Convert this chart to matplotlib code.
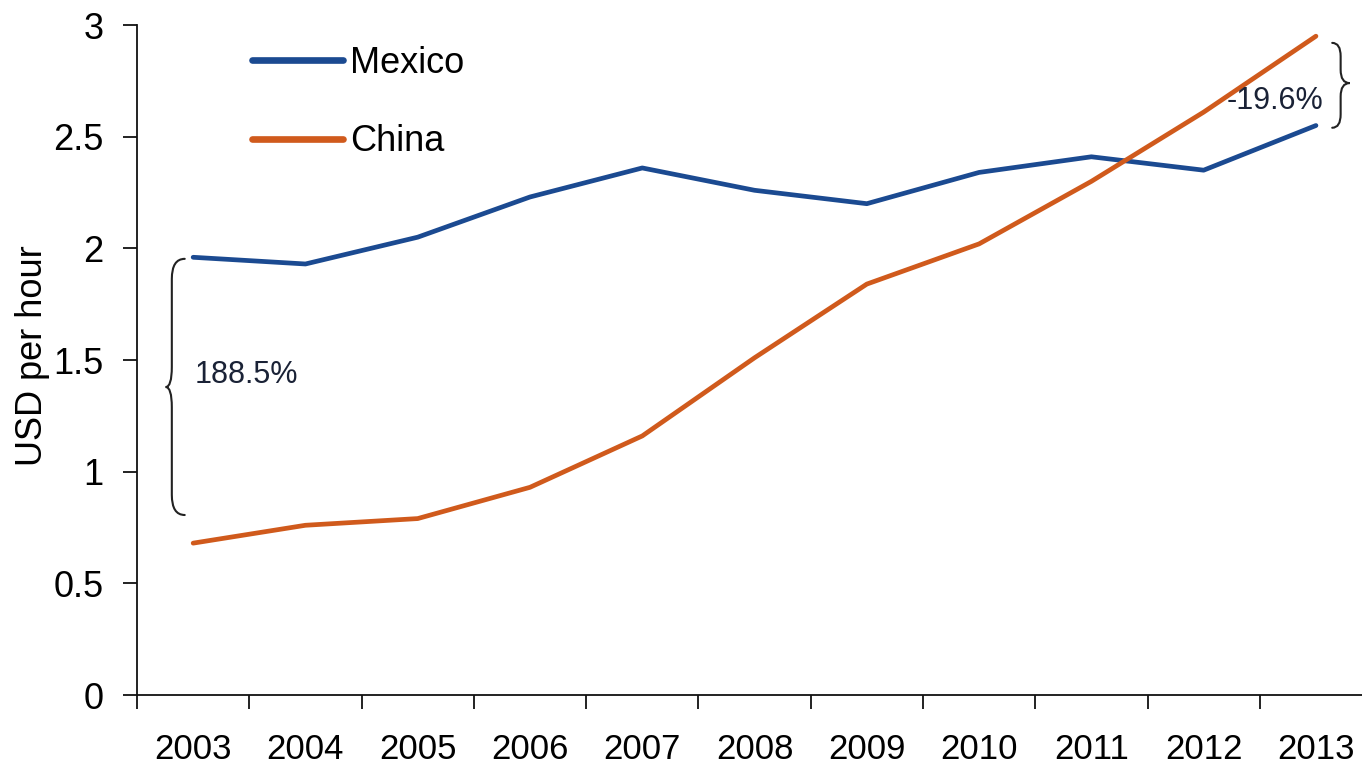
import numpy as np
import matplotlib
matplotlib.use("Agg")
import matplotlib.pyplot as plt
from matplotlib.path import Path
from matplotlib.patches import PathPatch

plt.rcParams["font.family"] = ["Liberation Sans", "DejaVu Sans"]

# Hourly manufacturing wages, USD
years = ["2003", "2004", "2005", "2006", "2007", "2008",
         "2009", "2010", "2011", "2012", "2013"]
mexico = [1.96, 1.93, 2.05, 2.23, 2.36, 2.26, 2.20, 2.34, 2.41, 2.35, 2.55]
china = [0.68, 0.76, 0.79, 0.93, 1.16, 1.51, 1.84, 2.02, 2.30, 2.61, 2.95]
yticks = [0, 0.5, 1, 1.5, 2, 2.5, 3]
ytick_labels = ["0", "0.5", "1", "1.5", "2", "2.5", "3"]

BLUE = "#1b4a91"
ORANGE = "#d05a1c"
NOTE = "#1a2236"


def brace(ax, x0, ytop, ybot, w, d, r, ymid=None):
    """Curly brace along a vertical span; w>0 opens right, w<0 opens left."""
    if ymid is None:
        ymid = (ytop + ybot) / 2
    verts = [
        (x0 + w, ytop), (x0, ytop), (x0, ytop - r),
        (x0, ymid + r),
        (x0, ymid), (x0 - d, ymid),
        (x0, ymid), (x0, ymid - r),
        (x0, ybot + r),
        (x0, ybot), (x0 + w, ybot),
    ]
    codes = [Path.MOVETO, Path.CURVE3, Path.CURVE3,
             Path.LINETO,
             Path.CURVE3, Path.CURVE3,
             Path.CURVE3, Path.CURVE3,
             Path.LINETO,
             Path.CURVE3, Path.CURVE3]
    ax.add_patch(PathPatch(Path(verts, codes), fill=False, lw=1.5,
                           edgecolor="#222222", capstyle="round",
                           clip_on=False))


fig = plt.figure(figsize=(13.62, 7.70), dpi=100)
ax = fig.add_axes([0.1006, 0.0974, 0.9068, 0.8701])

x = np.arange(len(years))
ax.plot(x, mexico, color=BLUE, lw=3.4, solid_joinstyle="round",
        solid_capstyle="round", label="Mexico")
ax.plot(x, china, color=ORANGE, lw=3.4, solid_joinstyle="round",
        solid_capstyle="round", label="China")

ax.set_xlim(-0.5, len(years) - 0.5)
ax.set_ylim(0, 3)

# category axis: tick marks between years, labels in the middle
ax.set_xticks(np.arange(-0.5, len(years), 1.0))
ax.set_xticklabels([])
ax.set_xticks(x, minor=True)
ax.set_xticklabels(years, minor=True)
ax.tick_params(axis="x", which="major", direction="out", length=10,
               width=1.3, color="#111111")
ax.tick_params(axis="x", which="minor", length=0, pad=27, labelsize=25)

ax.set_yticks(yticks)
ax.set_yticklabels(ytick_labels)
ax.tick_params(axis="y", direction="out", length=10, width=1.3,
               color="#111111", pad=14, labelsize=26)

for side in ("top", "right"):
    ax.spines[side].set_visible(False)
for side in ("left", "bottom"):
    ax.spines[side].set_linewidth(1.3)
    ax.spines[side].set_color("#111111")

ax.set_ylabel("USD per hour", fontsize=26)
ax.yaxis.set_label_coords(-0.0704, 0.507)

leg = ax.legend(loc="upper left", bbox_to_anchor=(0.067, 1.017),
                frameon=False, fontsize=26, handlelength=2.5,
                handletextpad=0.2, labelspacing=1.2)
for line in leg.get_lines():
    line.set_linewidth(4.8)

# gap annotations at both ends of the period
brace(ax, -0.19, 1.953, 0.806, 0.115, 0.055, 0.09, ymid=1.379)
ax.text(0.013, 1.433, "188.5%", fontsize=22, color=NOTE,
        ha="left", va="center")

brace(ax, 10.22, 2.92, 2.54, -0.075, -0.08, 0.06, ymid=2.74)
ax.text(10.07, 2.66, "-19.6%", fontsize=22, color=NOTE,
        ha="right", va="center")

fig.savefig("out.png", dpi=100, facecolor="white")
